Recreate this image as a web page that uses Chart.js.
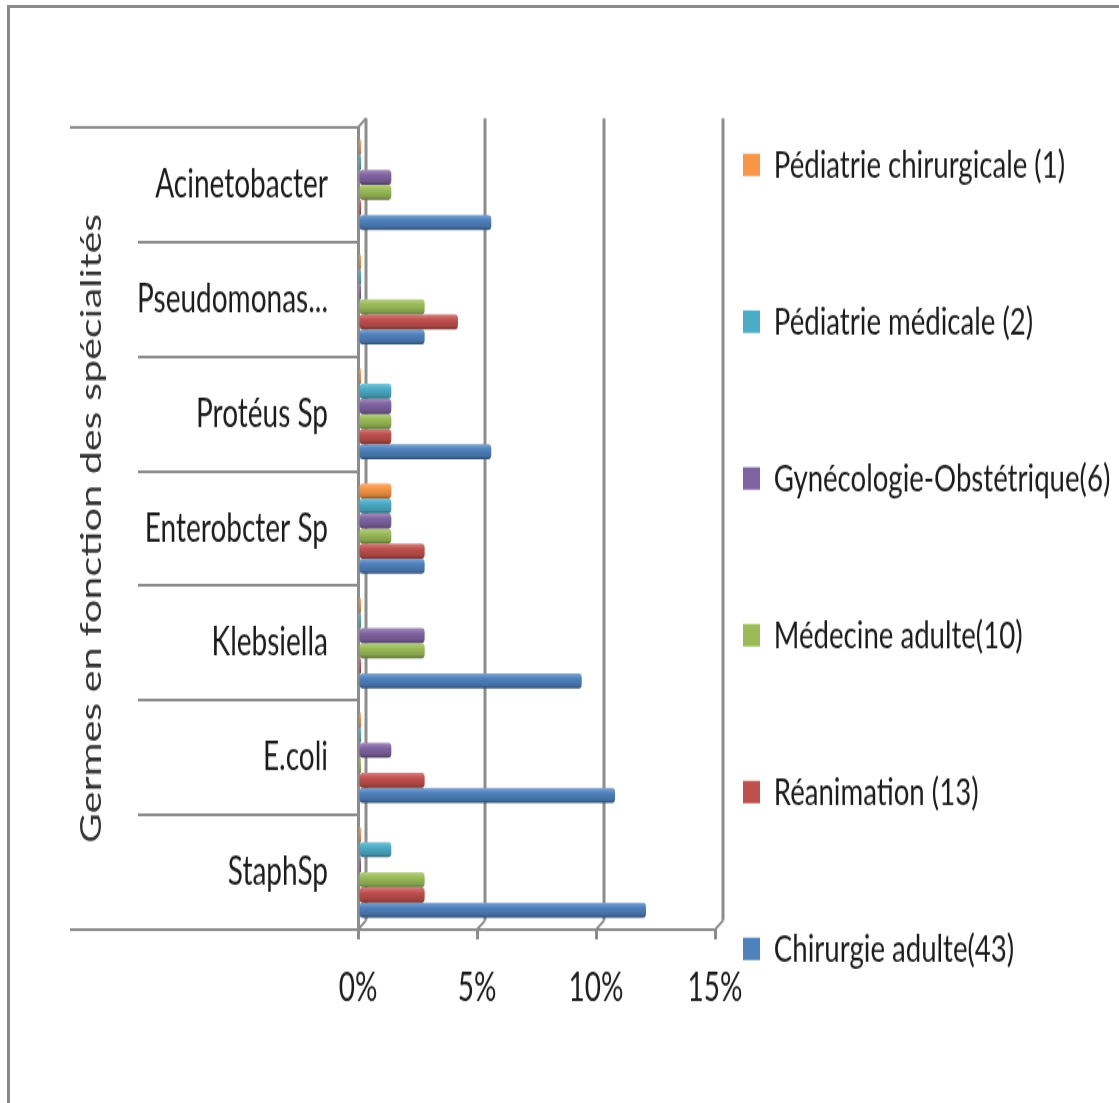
<!DOCTYPE html>
<html>
<head>
<meta charset="utf-8">
<script src="https://cdn.jsdelivr.net/npm/chart.js@4/dist/chart.umd.min.js"></script>
<style>
  html, body { margin: 0; padding: 0; background: #fff; overflow: hidden; width: 1119px; height: 1103px; }
  #wrap { position: absolute; left: 0; top: 0; width: 1119px; height: 788px; transform: scaleY(1.4); transform-origin: 0 0; }
  #frame { position: absolute; left: 7px; top: 5px; width: 1120px; height: 1110px; border-top: 3px solid #8a8a8a; border-left: 3px solid #8a8a8a; pointer-events: none; }
  canvas { display: block; }
</style>
</head>
<body>
<div id="wrap"><canvas id="chart" width="1119" height="788" style="width:1119px;height:788px"></canvas></div>
<div id="frame"></div>
<script>
// Germs (top to bottom) and the share of isolates per department, in %
const categories = ['Acinetobacter', 'Pseudomonas...', 'Protéus Sp', 'Enterobcter Sp', 'Klebsiella', 'E.coli', 'StaphSp'];
const seriesNames = [
  'Pédiatrie chirurgicale (1)',
  'Pédiatrie médicale (2)',
  'Gynécologie-Obstétrique(6)',
  'Médecine adulte(10)',
  'Réanimation (13)',
  'Chirurgie adulte(43)'
];
const pediatrieChirurgicale = [0, 0, 0, 1.4, 0, 0, 0];
const pediatrieMedicale     = [0, 0, 1.4, 1.4, 0, 0, 1.4];
const gynecoObstetrique     = [1.4, 0, 1.4, 1.4, 2.8, 1.4, 0];
const medecineAdulte        = [1.4, 2.8, 1.4, 1.4, 2.8, 0, 2.8];
const reanimation           = [0, 4.2, 1.4, 2.8, 0, 2.8, 2.8];
const chirurgieAdulte       = [5.6, 2.8, 5.6, 2.8, 9.4, 10.8, 12.1];
const xTickValues = [0, 5, 10, 15];
const axisTitle = 'Germes en fonction des spécialités';

const seriesValues = [pediatrieChirurgicale, pediatrieMedicale, gynecoObstetrique, medecineAdulte, reanimation, chirurgieAdulte];
const seriesColors = ['#F79646', '#4BACC6', '#8064A2', '#9BBB59', '#C0504D', '#4F81BD'];

const GRID = '#8c8c8c';
const TEXT = '#1c1c1c';
const FONT = 'Lato';
const FONT_SIZE = 28;
const LEGEND_FONT_SIZE = 27.6;
const DEPTH_X = 8, DEPTH_Y = 6.5;   // offset of the back wall

function mix(hex, target, t) {
  const a = parseInt(hex.slice(1), 16), b = parseInt(target.slice(1), 16);
  const ch = (v, s) => (v >> s) & 255;
  const r = Math.round(ch(a,16) + (ch(b,16) - ch(a,16)) * t);
  const g = Math.round(ch(a,8) + (ch(b,8) - ch(a,8)) * t);
  const bl = Math.round(ch(a,0) + (ch(b,0) - ch(a,0)) * t);
  return `rgb(${r},${g},${bl})`;
}

// Width of the widest legend entry decides how far right the legend sits
// (a vertical legend adds 10px to its fitted width)
const measureCtx = document.createElement('canvas').getContext('2d');
measureCtx.font = `${LEGEND_FONT_SIZE}px ${FONT}`;
const widestLegend = Math.max(...seriesNames.map(n => measureCtx.measureText(n).width));
const LEGEND_PAD = 28, BOX_W = 17;
const plotRight = 715;
const padRight = 1119 - plotRight - LEGEND_PAD - 10 - (BOX_W + LEGEND_FONT_SIZE / 2 + widestLegend);

// Cylinder-like shading on each bar
const shadePlugin = {
  id: 'shade',
  beforeDatasetsDraw(chart) {
    const ctx = chart.ctx;
    chart.data.datasets.forEach((ds, i) => {
      const base = seriesColors[i];
      chart.getDatasetMeta(i).data.forEach(bar => {
        const top = bar.y - bar.height / 2, bottom = bar.y + bar.height / 2;
        const g = ctx.createLinearGradient(0, top, 0, bottom);
        g.addColorStop(0, mix(base, '#ffffff', 0.28));
        g.addColorStop(0.35, base);
        g.addColorStop(0.8, mix(base, '#000000', 0.15));
        g.addColorStop(1, mix(base, '#000000', 0.42));
        bar.options = Object.assign({}, bar.options, { backgroundColor: g });
      });
    });
  }
};

// Back wall grid lines, floor edges and the outer category separators
const wallPlugin = {
  id: 'walls',
  beforeDatasetsDraw(chart) {
    const { ctx, chartArea: a, scales: { x } } = chart;
    ctx.save();
    ctx.strokeStyle = GRID;
    x.ticks.forEach(t => {
      const px = x.getPixelForValue(t.value);
      ctx.lineWidth = 3;
      ctx.beginPath();
      ctx.moveTo(px + DEPTH_X, a.top - DEPTH_Y);
      ctx.lineTo(px + DEPTH_X, a.bottom - DEPTH_Y);
      ctx.stroke();
      ctx.lineWidth = 2;
      ctx.beginPath();
      ctx.moveTo(px + DEPTH_X, a.bottom - DEPTH_Y);
      ctx.lineTo(px, a.bottom);
      ctx.stroke();
    });
    const x0 = x.getPixelForValue(0);
    ctx.lineWidth = 2;
    ctx.beginPath();
    ctx.moveTo(x0, a.top);
    ctx.lineTo(x0 + DEPTH_X, a.top - DEPTH_Y);
    ctx.stroke();
    ctx.restore();
  },
  afterDraw(chart) {
    const { ctx, chartArea: a, scales: { y } } = chart;
    const innerStart = y.right - y.options.grid.tickLength;
    ctx.save();
    ctx.strokeStyle = GRID;
    ctx.lineWidth = 2;
    [a.top, a.bottom].forEach(py => {
      ctx.beginPath();
      ctx.moveTo(y.left, py);
      ctx.lineTo(innerStart + 1, py);
      ctx.stroke();
    });
    ctx.restore();
  }
};

const datasets = seriesNames.map((name, i) => ({
  label: name,
  data: seriesValues[i],
  backgroundColor: seriesColors[i],
  borderWidth: 0
}));

new Chart(document.getElementById('chart'), {
  type: 'bar',
  data: { labels: categories, datasets },
  plugins: [wallPlugin, shadePlugin],
  options: {
    indexAxis: 'y',
    responsive: false,
    animation: false,
    events: [],
    devicePixelRatio: 1,
    layout: { padding: { left: 70, top: 76, bottom: 0, right: padRight } },
    datasets: {
      bar: { categoryPercentage: 0.79, barPercentage: 1, minBarLength: 3, borderRadius: 3, borderSkipped: false }
    },
    scales: {
      x: {
        type: 'linear',
        position: 'bottom',
        min: 0,
        max: 15,
        afterBuildTicks: s => { s.ticks = xTickValues.map(v => ({ value: v })); },
        afterFit: s => { s.height = 124; },
        grid: { drawOnChartArea: false, drawTicks: true, tickLength: 7, color: GRID, lineWidth: 3 },
        border: { display: true, color: GRID, width: 2 },
        ticks: { padding: 18, color: TEXT, maxRotation: 0, font: { family: FONT, size: FONT_SIZE }, callback: v => v + '%' }
      },
      y: {
        type: 'category',
        position: 'left',
        afterFit: s => { s.width = 288; },
        grid: { display: true, drawOnChartArea: false, drawTicks: true, offset: true, tickLength: 220, color: GRID, lineWidth: 2 },
        border: { display: true, color: GRID, width: 3 },
        ticks: { padding: -190, color: TEXT, font: { family: FONT, size: FONT_SIZE } },
        title: { display: true, text: axisTitle, color: '#333', font: { family: FONT, size: 29.5 }, padding: { top: 4, bottom: 0 } }
      }
    },
    plugins: {
      tooltip: { enabled: false },
      // empty top band: keeps the plot below the top edge of the legend column
      title: { display: true, text: '', padding: 0, font: { size: 15, lineHeight: 1 } },
      legend: {
        position: 'right',
        align: 'start',
        maxWidth: 1200,
        labels: {
          boxWidth: BOX_W,
          boxHeight: 16,
          padding: LEGEND_PAD,
          color: TEXT,
          font: { family: FONT, size: LEGEND_FONT_SIZE, lineHeight: 84 / LEGEND_FONT_SIZE },
          generateLabels(chart) {
            return Chart.defaults.plugins.legend.labels.generateLabels(chart).map(item => {
              item.text = [item.text];
              item.fillStyle = seriesColors[item.datasetIndex];
              item.lineWidth = 0;
              item.strokeStyle = 'rgba(0,0,0,0)';
              return item;
            });
          }
        }
      }
    }
  }
});
</script>
</body>
</html>
